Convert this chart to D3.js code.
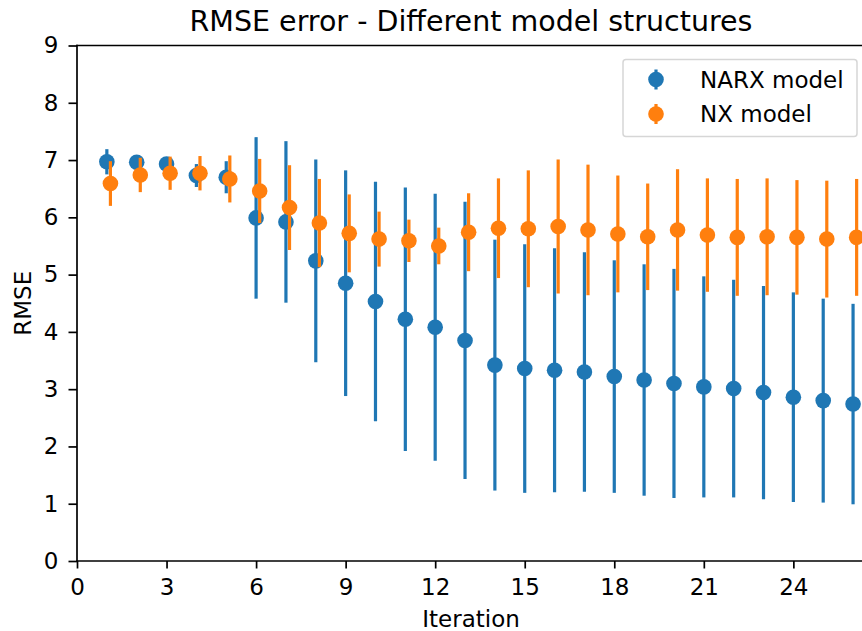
<!DOCTYPE html>
<html>
<head>
<meta charset="utf-8">
<script src="https://cdn.jsdelivr.net/npm/d3@7"></script>
<style>
	body { margin: 0; background: #fff; }
	svg { display: block; font-family: "DejaVu Sans", sans-serif; }
</style>
</head>
<body>
<div id="stage"></div>
<script>
	// values
	var iterations = [1,2,3,4,5,6,7,8,9,10,11,12,13,14,15,16,17,18,19,20,21,22,23,24,25,26];
	var narxMean = [6.97,6.96,6.93,6.73,6.70,5.99,5.92,5.24,4.85,4.53,4.22,4.08,3.85,3.42,3.36,3.33,3.30,3.22,3.16,3.10,3.04,3.01,2.94,2.86,2.80,2.74];
	var narxErr  = [0.22,0.08,0.08,0.20,0.28,1.41,1.41,1.77,1.97,2.09,2.30,2.33,2.42,2.19,2.17,2.13,2.09,2.03,2.02,2.00,1.93,1.90,1.86,1.83,1.78,1.75];
	var nxMean = [6.59,6.74,6.77,6.77,6.67,6.46,6.17,5.90,5.72,5.62,5.59,5.50,5.74,5.81,5.80,5.84,5.78,5.71,5.66,5.78,5.69,5.65,5.66,5.65,5.62,5.65];
	var nxErr  = [0.39,0.30,0.29,0.30,0.41,0.56,0.74,0.77,0.68,0.48,0.37,0.32,0.68,0.87,1.02,1.17,1.14,1.02,0.93,1.06,0.99,1.02,1.02,1.00,1.02,1.02];
	var xTicks = [0,3,6,9,12,15,18,21,24];
	var yTicks = [0,1,2,3,4,5,6,7,8,9];
	var seriesNames = ['NARX model', 'NX model'];
	var colors = ['#1f77b4', '#ff7f0e'];
	var nxOffset = 0.12;

	(function() {
		var width = 862, height = 631;
		var m = {left: 77, right: 865, top: 45.5, bottom: 561};
		var fontSize = '23px';

		var svg = d3.select('#stage').append('svg')
			.attr('width', width)
			.attr('height', height);

		var x = d3.scaleLinear().domain([0, 26.4]).range([m.left, m.right]);
		var y = d3.scaleLinear().domain([0, 9]).range([m.bottom, m.top]);

		var series = [
			{name: seriesNames[0], color: colors[0], off: 0, mean: narxMean, err: narxErr},
			{name: seriesNames[1], color: colors[1], off: nxOffset, mean: nxMean, err: nxErr}
		];

		// error bars, then markers, one series after the other
		var plot = svg.append('g');
		series.forEach(function(s) {
			var pts = iterations.map(function(it, i) {
				return {x: it + s.off, y: s.mean[i], e: s.err[i]};
			});
			var g = plot.append('g');
			g.selectAll('line')
				.data(pts)
				.enter()
				.append('line')
				.attr('x1', function(d) { return x(d.x); })
				.attr('x2', function(d) { return x(d.x); })
				.attr('y1', function(d) { return y(d.y - d.e); })
				.attr('y2', function(d) { return y(d.y + d.e); })
				.attr('stroke', s.color)
				.attr('stroke-width', 3.2);
			g.selectAll('circle')
				.data(pts)
				.enter()
				.append('circle')
				.attr('cx', function(d) { return x(d.x); })
				.attr('cy', function(d) { return y(d.y); })
				.attr('r', 7.8)
				.attr('fill', s.color);
		});

		// axes
		var xAxis = d3.axisBottom(x).tickValues(xTicks).tickSize(7.5).tickPadding(10);
		var yAxis = d3.axisLeft(y).tickValues(yTicks).tickSize(8.5).tickPadding(10);

		var gx = svg.append('g')
			.attr('transform', 'translate(0,' + m.bottom + ')')
			.call(xAxis);
		var gy = svg.append('g')
			.attr('transform', 'translate(' + m.left + ',0)')
			.call(yAxis);

		[gx, gy].forEach(function(g) {
			g.select('.domain').remove();
			g.selectAll('.tick line').attr('stroke', '#000').attr('stroke-width', 1.7);
			g.selectAll('.tick text').attr('fill', '#000').style('font-size', fontSize).style('font-family', '"DejaVu Sans", sans-serif');
		});

		// spines
		var spines = [
			[m.left, m.top, m.left, m.bottom],
			[m.left, m.bottom, m.right, m.bottom],
			[m.left, m.top, m.right, m.top],
			[m.right, m.top, m.right, m.bottom]
		];
		svg.selectAll('line.spine')
			.data(spines)
			.enter()
			.append('line')
			.attr('class', 'spine')
			.attr('x1', function(d) { return d[0]; })
			.attr('y1', function(d) { return d[1]; })
			.attr('x2', function(d) { return d[2]; })
			.attr('y2', function(d) { return d[3]; })
			.attr('stroke', '#000')
			.attr('stroke-width', 1.7)
			.attr('stroke-linecap', 'square');

		// labels
		svg.append('text')
			.attr('x', (m.left + m.right) / 2)
			.attr('y', 31)
			.attr('text-anchor', 'middle')
			.style('font-size', '28.5px')
			.text('RMSE error - Different model structures');

		svg.append('text')
			.attr('x', (m.left + m.right) / 2)
			.attr('y', 627)
			.attr('text-anchor', 'middle')
			.style('font-size', fontSize)
			.text('Iteration');

		svg.append('text')
			.attr('transform', 'translate(31,' + (m.top + m.bottom) / 2 + ') rotate(-90)')
			.attr('text-anchor', 'middle')
			.style('font-size', fontSize)
			.text('RMSE');

		// legend
		var legend = svg.append('g');
		legend.append('rect')
			.attr('x', 623)
			.attr('y', 59.5)
			.attr('width', 234)
			.attr('height', 77)
			.attr('rx', 3)
			.attr('fill', 'rgba(255,255,255,0.8)')
			.attr('stroke', '#d6d6d6')
			.attr('stroke-width', 1.5);

		series.forEach(function(s, i) {
			var ly = 79.5 + i * 34.5;
			legend.append('line')
				.attr('x1', 656).attr('x2', 656)
				.attr('y1', ly - 10).attr('y2', ly + 10)
				.attr('stroke', s.color).attr('stroke-width', 3.2);
			legend.append('circle')
				.attr('cx', 656).attr('cy', ly).attr('r', 7.8).attr('fill', s.color);
			legend.append('text')
				.attr('x', 700)
				.attr('y', ly + 8.3)
				.style('font-size', fontSize)
				.text(s.name);
		});
	})();
</script>
</body>
</html>
